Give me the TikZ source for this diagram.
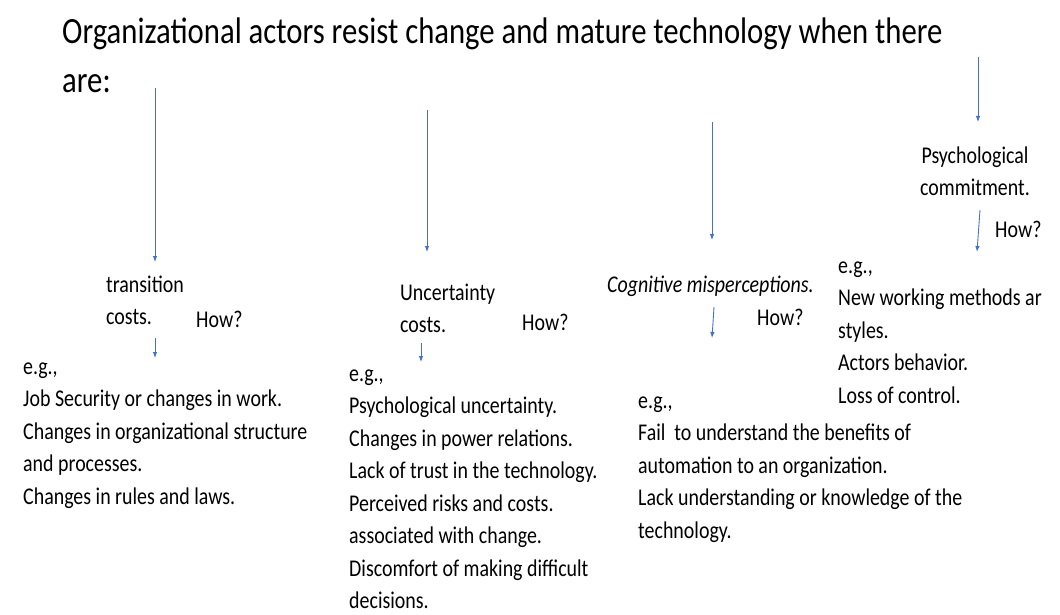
\documentclass[tikz,border=0pt]{standalone}
\usepackage{fontspec}
\setmainfont{Carlito}[FakeStretch=0.83]
\usetikzlibrary{arrows.meta}
\begin{document}
\begin{tikzpicture}
	[x=1pt,y=-1pt,
		link/.style={-{Latex[length=6pt,width=4.5pt]},draw=arrowblue,line width=0.9pt},
		title/.style={anchor=north west,inner sep=0pt,align=left,font=\fontsize{37}{49}\selectfont},
		cause/.style={anchor=north west,inner sep=0pt,align=left,font=\fontsize{24}{32.5}\selectfont},
		examples/.style={anchor=north west,inner sep=0pt,align=left,font=\fontsize{24}{32.5}\selectfont},
		how/.style={anchor=base west,inner sep=0pt,font=\fontsize{24}{32.5}\selectfont}]
	\definecolor{arrowblue}{HTML}{4472C4}
	\useasboundingbox (0,0) rectangle (1060,615);
	\node[title] (head) at (62,8.7) {\strut Organizational actors resist change and mature technology when there\\are:};
	% the four kinds of cost
	\node[cause] (trans) at (106,269.25) {\strut transition\\costs.};
	\node[cause] (uncert) at (400,277.25) {\strut Uncertainty\\costs.};
	\node[how,font=\fontsize{24}{32.5}\selectfont\itshape] (cogn) at (607,292) {Cognitive misperceptions.};
	\node[cause,anchor=north,align=center] (psych) at (975,140.25) {\strut Psychological\\commitment.};
	\node[how] (how1) at (196,327) {How?};
	\node[how] (how2) at (522,330) {How?};
	\node[how] (how3) at (757,325) {How?};
	\node[how] (how4) at (995,237) {How?};
	% examples
	\node[examples] (eg1) at (23,351.25) {\strut e.g.,\\Job Security or changes in work.\\Changes in organizational structure\\and processes.\\Changes in rules and laws.};
	\node[examples] (eg2) at (349,358.5) {\strut e.g.,\\Psychological uncertainty.\\Changes in power relations.\\Lack of trust in the technology.\\Perceived risks and costs.\\associated with change.\\Discomfort of making difficult\\decisions.};
	\node[examples] (eg3) at (638,385.25) {\strut e.g.,\\Fail\ \ to understand the benefits of\\automation to an organization.\\Lack understanding or knowledge of the\\technology.};
	\node[examples] (eg4) at (838,250.25) {\strut e.g.,\\New working methods ar\\styles.\\Actors behavior.\\Loss of control.};
	\coordinate (s1) at (155,88);
	\coordinate (e1) at (155,262);
	\coordinate (s2) at (427,110);
	\coordinate (e2) at (427,252);
	\coordinate (s3) at (712,122);
	\coordinate (e3) at (712,240);
	\coordinate (s4) at (978,57);
	\coordinate (e4) at (978,122);
	\coordinate (t1) at (155,338);
	\coordinate (u1) at (155,358);
	\coordinate (t2) at (421,343);
	\coordinate (u2) at (421,362);
	\coordinate (t3) at (714,307);
	\coordinate (u3) at (712,338);
	\coordinate (t4) at (980,210);
	\coordinate (u4) at (977,252);
	\draw[link] (s1) -- (e1);
	\draw[link] (s2) -- (e2);
	\draw[link] (s3) -- (e3);
	\draw[link] (s4) -- (e4);
	\draw[link] (t1) -- (u1);
	\draw[link] (t2) -- (u2);
	\draw[link] (t3) -- (u3);
	\draw[link] (t4) -- (u4);
\end{tikzpicture}
\end{document}
